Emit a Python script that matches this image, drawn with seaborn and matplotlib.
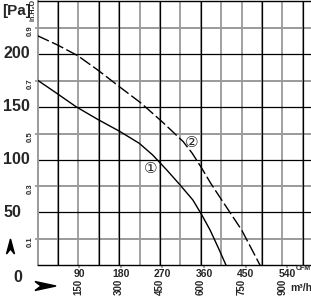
import numpy as np
import pandas as pd
import seaborn as sns
import matplotlib
matplotlib.use("Agg")
import matplotlib.pyplot as plt
import matplotlib.transforms as mtransforms
from matplotlib.patches import Polygon

# Характеристики вентилятора: витрата (м3/год) і тиск (Па)
flow1 = [0, 70, 141, 222, 300, 374, 423, 475, 524, 571, 604, 634, 663, 693]
pres1 = [175, 162.7, 150, 137.8, 126.9, 115.3, 104.3, 90.1, 75.9, 61.7, 47.5, 33.4, 17.3, 0]
flow2 = [0, 74, 148, 224, 301, 380, 457, 535, 568, 603, 637, 677, 750, 781, 818]
pres2 = [217, 208.2, 198.1, 184.1, 168.8, 153.4, 135.9, 117, 106.1, 92, 77.3, 61.7, 33.4, 18.2, 0]

pa_ticks = [0, 50, 100, 150, 200]
inh2o_ticks = [0.1, 0.3, 0.5, 0.7, 0.9]
m3h_ticks = [150, 300, 450, 600, 750, 900]
cfm_ticks = [90, 180, 270, 360, 450, 540]
curve_labels = ["①", "②"]

PA_PER_INH2O = 249.09
M3H_PER_CFM = 1.699

sns.set_theme(style="white")
plt.rcParams["font.family"] = ["Liberation Sans", "DejaVu Sans"]
plt.rcParams["font.weight"] = "bold"

W, H = 311, 297
fig = plt.figure(figsize=(W / 100, H / 100), dpi=100)
left, bottom, top = 37.5, 265.3, 0.8
ax = fig.add_axes([left / W, (H - bottom) / H, 1 - left / W, (bottom - top) / H])
ax.set_xlim(0, 1005)
ax.set_ylim(0, 250)

# сітка: чорна (Па, м3/год) і сіра (in.H2O, CFM)
dark_cols = [1, 3, 4, 6, 8, 11, 13]
for k in range(1, 14):
    ax.axvline(75 * k, color="#9a9a9a", lw=1.3, zorder=1)
    if k in dark_cols:
        ax.axvline(75 * k, color="black", lw=0.9, zorder=2)
for h in inh2o_ticks:
    ax.axhline(h * PA_PER_INH2O, color="#9a9a9a", lw=1.4, zorder=1)
for p in pa_ticks[1:]:
    ax.axhline(p, color="black", lw=0.9, zorder=2)

sns.lineplot(x=flow1, y=pres1, color="black", lw=1.0, ax=ax, sort=False, estimator=None, zorder=3)
sns.lineplot(x=flow2, y=pres2, color="black", lw=1.0, ax=ax, sort=False, estimator=None,
             linestyle=(0, (9, 2.5)), zorder=3)
ax.set_xlabel("")
ax.set_ylabel("")

for lab, (x, y) in zip(curve_labels, [(415, 91.5), (566, 116.5)]):
    ax.text(x, y, lab, fontsize=11, ha="center", va="center", fontweight="normal",
            family=["DejaVu Sans", "Noto Sans CJK JP"], zorder=4)

ax.spines["right"].set_visible(False)
ax.spines["left"].set_color("#9a9a9a")
ax.spines["left"].set_linewidth(1.4)
for side in ["top", "bottom"]:
    ax.spines[side].set_color("black")
    ax.spines[side].set_linewidth(1.0)

# підписи тиску в Па
ax.set_yticks([])
trans = mtransforms.blended_transform_factory(fig.transFigure, ax.transData)
for p in pa_ticks[1:]:
    ax.text(3 / W, p, str(p), transform=trans, ha="left", va="center", fontsize=11.5,
            fontweight="bold", clip_on=False)
ax.text(18 / W, 0, "0", transform=mtransforms.offset_copy(trans, fig=fig, y=-12, units="dots"),
        ha="center", va="center", fontsize=11.5, fontweight="bold", clip_on=False)

ay2 = ax.secondary_yaxis("left", functions=(lambda p: p / PA_PER_INH2O, lambda h: h * PA_PER_INH2O))
ay2.set_yticks(inh2o_ticks, labels=[str(h) for h in inh2o_ticks])
ay2.tick_params(axis="y", length=2.5, width=1.3, color="#9a9a9a", pad=0.5, labelsize=5.5,
                labelrotation=90)
ay2.spines["left"].set_visible(False)

# витрата в м3/год і CFM
ax.set_xticks(m3h_ticks, labels=[str(v) for v in m3h_ticks])
ax.tick_params(axis="x", length=0, pad=10, labelsize=7, labelrotation=90)
for t in ax.get_xticklabels():
    t.set_fontweight("bold")

ax2 = ax.secondary_xaxis("bottom", functions=(lambda q: q / M3H_PER_CFM, lambda c: c * M3H_PER_CFM))
ax2.set_xticks(cfm_ticks, labels=[str(c) for c in cfm_ticks])
ax2.tick_params(axis="x", length=2, width=1.2, color="#9a9a9a", pad=0.5, labelsize=7.5)
ax2.spines["bottom"].set_visible(False)
for t in ax2.get_xticklabels():
    t.set_fontweight("bold")

fig.text(2 / W, 1 - 11 / H, "[Pa]", ha="left", va="center", fontsize=11, fontweight="bold")
fig.text(33 / W, 1 - 10 / H, "in.H₂O", ha="center", va="center", fontsize=5, rotation=90,
         fontweight="bold")
fig.text(296 / W, 1 - 269 / H, "CFM", ha="left", va="center", fontsize=5, fontweight="bold")
fig.text(290 / W, 1 - 288 / H, "m³/h", ha="left", va="center", fontsize=7.5, fontweight="bold")


def px(x, y):
    return (x / W, 1 - y / H)


# стрілки біля осей
fig.patches.append(Polygon([px(10.5, 239), px(14.5, 254), px(10.5, 249), px(6.5, 254)],
                           closed=True, color="black", transform=fig.transFigure))
fig.patches.append(Polygon([px(56, 286), px(35, 281.5), px(41, 286), px(35, 290.5)],
                           closed=True, color="black", transform=fig.transFigure))

fig.savefig("out.png", dpi=100)
